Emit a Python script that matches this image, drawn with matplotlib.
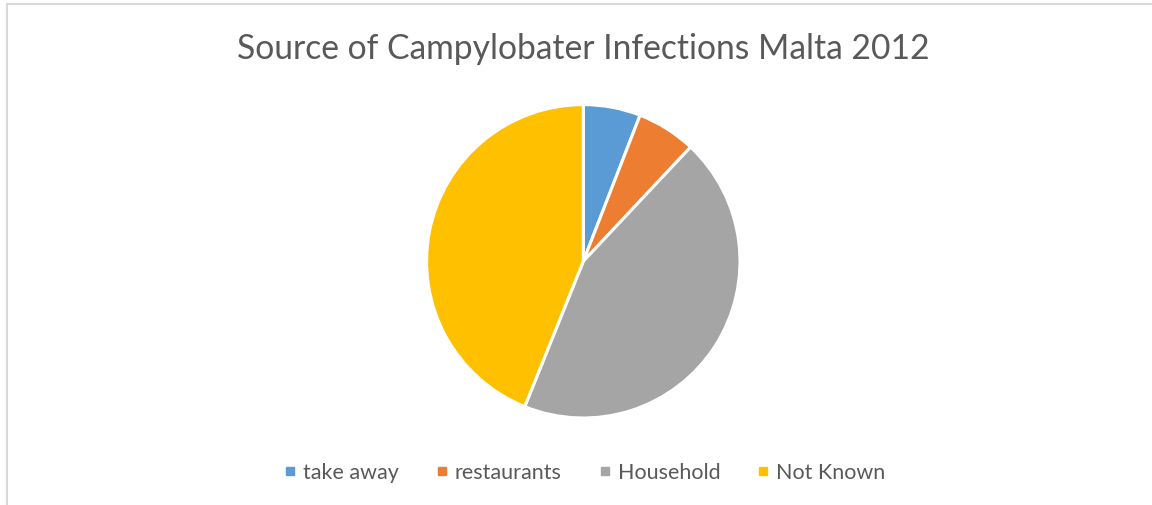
import matplotlib
matplotlib.use("Agg")
import matplotlib.pyplot as plt
from matplotlib.patches import Rectangle
from matplotlib.lines import Line2D

categories = ["take away", "restaurants", "Household", "Not Known"]
values = [5.9, 6.1, 44.1, 43.9]
colors = ["#5B9BD5", "#ED7D31", "#A5A5A5", "#FFC000"]
title = "Source of Campylobater Infections Malta 2012"

W, H = 1152, 506
fig = plt.figure(figsize=(W / 100, H / 100), dpi=100)
fig.patch.set_facecolor("white")

# chart frame (cropped at right and bottom)
fig.add_artist(Rectangle((7 / W, -0.1), 1.2, 1 - 5 / H + 0.1, transform=fig.transFigure,
                         fill=False, edgecolor="#D9D9D9", linewidth=1.5))

cx, cy, r = 583.3, H - 262.3, 156.7
ax = fig.add_axes([(cx - r) / W, (cy - r) / H, 2 * r / W, 2 * r / H])
ax.pie(values, colors=colors, startangle=90, counterclock=False, radius=1,
       wedgeprops=dict(edgecolor="white", linewidth=2.2))
ax.set_xlim(-1, 1)
ax.set_ylim(-1, 1)
ax.set_aspect("auto")
ax.axis("off")

fig.text(583 / W, 1 - 49 / H, title, ha="center", va="center",
         fontsize=24.2, color="#595959", family="Lato")

handles = [Line2D([], [], marker="s", linestyle="", markersize=6,
                  markerfacecolor=c, markeredgecolor=c) for c in colors]
fig.legend(handles, categories, loc="center", bbox_to_anchor=(585 / W, 1 - 473.5 / H),
           ncol=4, frameon=False, prop=dict(family="Lato", size=15.5),
           labelcolor="#595959", handlelength=0.5, handletextpad=0.35, columnspacing=1.75)

fig.savefig("out.png", dpi=100, facecolor="white")
